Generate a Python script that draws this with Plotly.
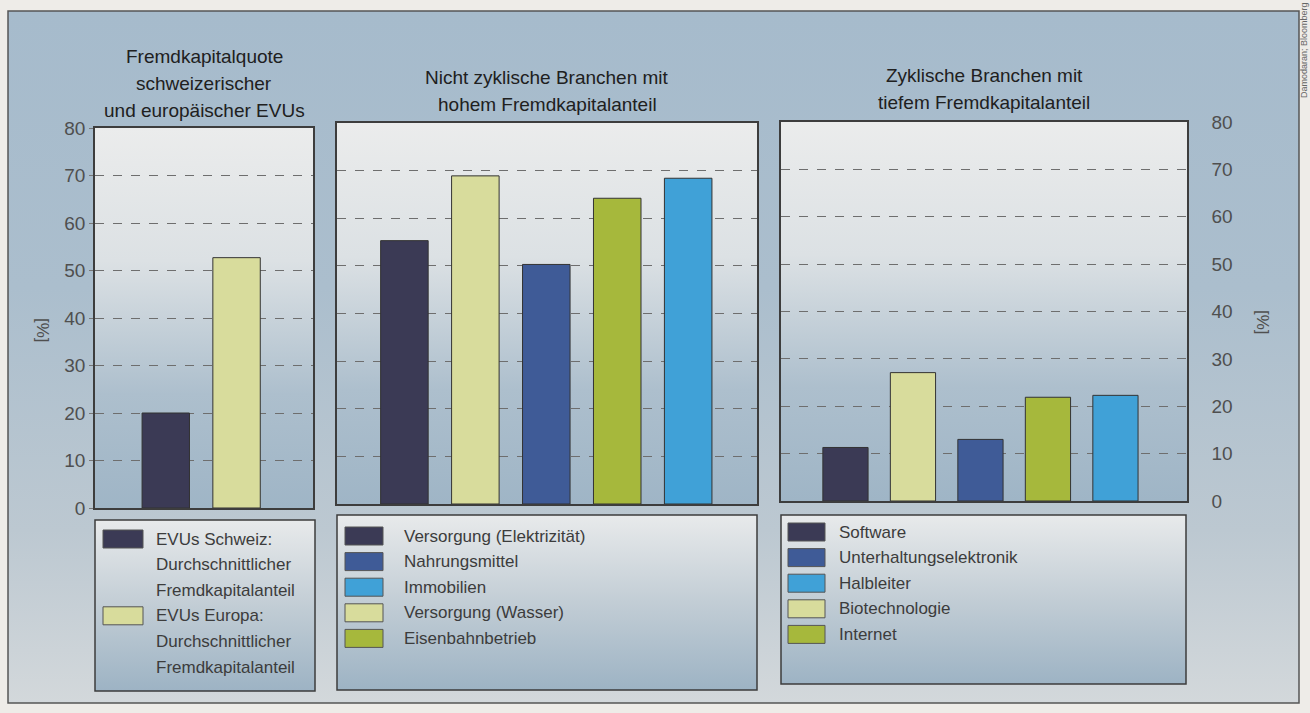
import plotly.graph_objects as go

W, H = 1310, 713

# ---------------- data ----------------
evu_labels = ["EVUs Schweiz", "EVUs Europa"]
evu_values = [20.0, 52.7]

nz_labels = ["Versorgung (Elektrizität)", "Versorgung (Wasser)", "Nahrungsmittel",
             "Eisenbahnbetrieb", "Immobilien"]
nz_values = [55.3, 68.9, 50.3, 64.2, 68.4]

z_labels = ["Software", "Biotechnologie", "Unterhaltungselektronik", "Internet", "Halbleiter"]
z_values = [11.3, 27.1, 13.0, 21.9, 22.3]

tick_values = [0, 10, 20, 30, 40, 50, 60, 70, 80]
tick_labels = ["0", "10", "20", "30", "40", "50", "60", "70", "80"]

title1 = ["Fremdkapitalquote", "schweizerischer", "und europäischer EVUs"]
title2 = ["Nicht zyklische Branchen mit", "hohem Fremdkapitalanteil"]
title3 = ["Zyklische Branchen mit", "tiefem Fremdkapitalanteil"]

legend1_lines = [("EVUs Schweiz", ["EVUs Schweiz:", "Durchschnittlicher", "Fremdkapitalanteil"]),
                 ("EVUs Europa", ["EVUs Europa:", "Durchschnittlicher", "Fremdkapitalanteil"])]
legend2_order = ["Versorgung (Elektrizität)", "Nahrungsmittel", "Immobilien",
                 "Versorgung (Wasser)", "Eisenbahnbetrieb"]
legend3_order = ["Software", "Unterhaltungselektronik", "Halbleiter", "Biotechnologie", "Internet"]

axis_title = "[%]"
source_text = "Damodaran; Bloomberg"

# ---------------- styles ----------------
DARK = "#3b3a55"
PALE = "#d8dc9c"
BLUE = "#3f5b97"
GREEN = "#a6b83c"
LBLUE = "#40a1d7"
colors = {
    "EVUs Schweiz": DARK, "EVUs Europa": PALE,
    "Versorgung (Elektrizität)": DARK, "Versorgung (Wasser)": PALE,
    "Nahrungsmittel": BLUE, "Eisenbahnbetrieb": GREEN, "Immobilien": LBLUE,
    "Software": DARK, "Biotechnologie": PALE, "Unterhaltungselektronik": BLUE,
    "Internet": GREEN, "Halbleiter": LBLUE,
}
FONT = "Liberation Sans"
EDGE = "#3d3d3d"


def Y(py):
    return H - py


fig = go.Figure()


def grad_rect(x0, y0, x1, y1, scale):
    fig.add_trace(go.Scatter(
        x=[x0, x1, x1, x0, x0], y=[Y(y0), Y(y0), Y(y1), Y(y1), Y(y0)],
        mode="lines", line=dict(width=0), fill="toself",
        fillgradient=dict(type="vertical", colorscale=scale),
        hoverinfo="skip", showlegend=False, xaxis="x", yaxis="y"))


panel_scale = [[0, "#d3d8db"], [0.25, "#bcc8d1"], [0.6, "#abbecd"], [1, "#a6bbcc"]]
plot_scale = [[0, "#9fb5c6"], [0.3, "#adbfcd"], [0.65, "#dce1e4"], [1, "#ebecec"]]
leg_scale = [[0, "#9db3c4"], [0.5, "#c2cdd5"], [1, "#e8eaeb"]]

# main panel
grad_rect(8, 11, 1299, 703, panel_scale)
# plot areas
boxes = [(95, 128, 313, 508), (337, 123, 757, 504), (781, 122, 1187, 501)]
for b in boxes:
    grad_rect(*b, plot_scale)
# legend boxes
lboxes = [(95, 520, 315, 691), (337, 515, 757, 690), (781, 515, 1186, 684)]
for b in lboxes:
    grad_rect(*b, leg_scale)

# ---------------- bars ----------------
ranges = [[-1.0, 2.08], [-0.95, 4.97], [-0.955, 5.06]]
datasets = [(evu_labels, evu_values), (nz_labels, nz_values), (z_labels, z_values)]
for i, ((labs, vals), b, rg) in enumerate(zip(datasets, boxes, ranges)):
    k = i + 2
    fig.add_trace(go.Bar(
        x=labs, y=vals, width=0.67,
        marker=dict(color=[colors[l] for l in labs], line=dict(color="#333333", width=1)),
        xaxis=f"x{k}", yaxis=f"y{k}", showlegend=False))
    x0, y0, x1, y1 = b
    fig.update_layout(**{
        f"xaxis{k}": dict(domain=[x0 / W, x1 / W], anchor=f"y{k}", type="category",
                          range=rg, showticklabels=False, ticks="", showgrid=False,
                          showline=True, mirror=True, linecolor=EDGE, linewidth=1.5,
                          fixedrange=True, automargin=False),
        f"yaxis{k}": dict(domain=[1 - y1 / H, 1 - y0 / H], anchor=f"x{k}", range=[0, 80],
                          tickvals=tick_values, ticktext=tick_labels,
                          showgrid=True, gridcolor="#6e6e6e", griddash="dash", gridwidth=1,
                          showline=True, mirror=True, linecolor=EDGE, linewidth=1.5,
                          zeroline=False, fixedrange=True, automargin=False,
                          tickfont=dict(family=FONT, size=19, color="#4f4f4f")),
    })

fig.update_layout(
    yaxis2=dict(ticks="outside", ticklen=4, tickcolor="#777777", showticklabels=True),
    yaxis3=dict(showticklabels=False, ticks=""),
    yaxis4=dict(side="right", ticks="outside", ticklen=19, tickcolor="rgba(0,0,0,0)",
                showticklabels=True),
)

# ---------------- shapes ----------------
shapes = []
# main panel border
shapes.append(dict(type="rect", xref="x", yref="y", x0=8, x1=1299, y0=Y(11), y1=Y(703),
                   line=dict(color="#555555", width=1.5), fillcolor="rgba(0,0,0,0)"))
for (x0, y0, x1, y1) in lboxes:
    shapes.append(dict(type="rect", xref="x", yref="y", x0=x0, x1=x1, y0=Y(y0), y1=Y(y1),
                       line=dict(color=EDGE, width=1.5), fillcolor="rgba(0,0,0,0)"))

annotations = []


def text(x, y, s, size=17, color="#3c3c3c", xanchor="left", angle=0, yanchor="middle"):
    annotations.append(dict(x=x, y=Y(y), xref="x", yref="y", text=s, showarrow=False,
                            xanchor=xanchor, yanchor=yanchor, textangle=angle,
                            font=dict(family=FONT, size=size, color=color)))


def swatch(x0, x1, yc, col):
    shapes.append(dict(type="rect", xref="x", yref="y", x0=x0, x1=x1,
                       y0=Y(yc - 9), y1=Y(yc + 9), fillcolor=col,
                       line=dict(color="#555555", width=1)))


# legend 1
row_h = 25.6
y = 539
for lab, lines in legend1_lines:
    swatch(103, 143, y, colors[lab])
    for ln in lines:
        text(154, y, ln)
        y += row_h
# legend 2
y = 536
for lab in legend2_order:
    swatch(345, 383, y, colors[lab])
    text(402, y, lab)
    y += row_h
# legend 3
y = 532
for lab in legend3_order:
    swatch(788, 825, y, colors[lab])
    text(837, y, lab)
    y += row_h

# titles
for lines, xc, ys in [(title1, 204, 56), (title2, 547, 77), (title3, 984, 75)]:
    for j, ln in enumerate(lines):
        text(xc, ys + j * 27, ln, size=19, color="#202020", xanchor="center")

# axis titles
text(43, 330, axis_title, size=17, color="#4f4f4f", xanchor="center", angle=90)
text(1263, 322, axis_title, size=17, color="#4f4f4f", xanchor="center", angle=90)
# source
text(1304, 100, source_text, size=9, color="#666666", xanchor="center", angle=-90,
     yanchor="bottom")

fig.update_layout(
    width=W, height=H, autosize=False,
    margin=dict(l=0, r=0, t=0, b=0, pad=0, autoexpand=False),
    paper_bgcolor="#eeece8", plot_bgcolor="rgba(0,0,0,0)",
    xaxis=dict(domain=[0, 1], range=[0, W], visible=False, fixedrange=True, automargin=False),
    yaxis=dict(domain=[0, 1], range=[0, H], visible=False, fixedrange=True, automargin=False),
    shapes=shapes, annotations=annotations, showlegend=False,
    font=dict(family=FONT),
)

fig.write_html("out.html")
